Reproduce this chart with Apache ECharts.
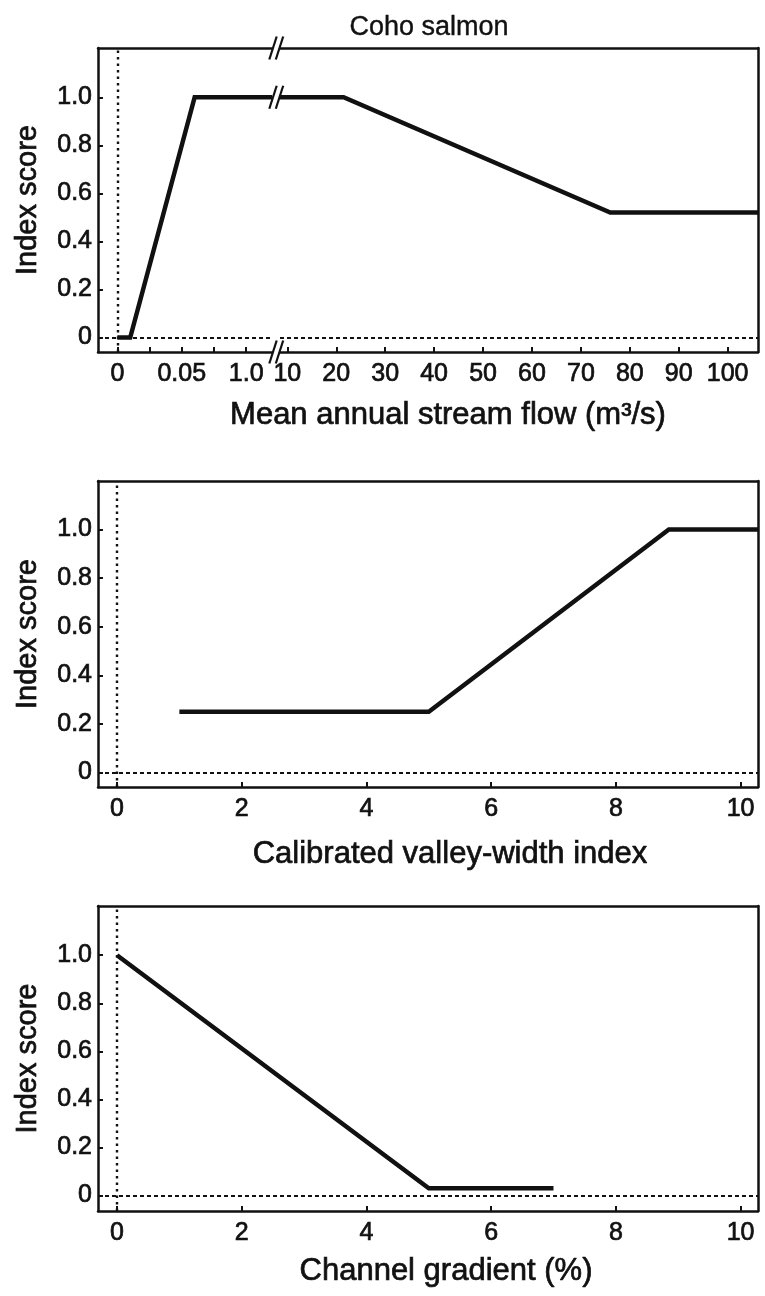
<!DOCTYPE html>
<html>
<head>
<meta charset="utf-8">
<title>Coho salmon habitat index curves</title>
<script src="https://cdn.jsdelivr.net/npm/echarts@6/dist/echarts.min.js"></script>
<style>
  html, body { margin: 0; padding: 0; background: #fff; }
  #chart { width: 765px; height: 1296px; }
</style>
</head>
<body>
<div id="chart"></div>
<script>
// ---- data -------------------------------------------------------------
// Panel 1: mean annual stream flow (m3/s), drawn on a broken axis
const flowLow = [0, 0.01, 0.06, 0.12];          // low-flow segment
const flowLowScore = [0, 0, 1, 1];
const flowHigh = [8.5, 21.5, 76, 106.2];        // high-flow segment
const flowHighScore = [1, 1, 0.52, 0.52];
const flowLowTicks = [0, 0.025, 0.05, 0.075, 0.1];
const flowLowLabelValues = [0, 0.05, 0.1];
const flowLowLabels = ['0', '0.05', '1.0'];
const flowHighTicks = [10, 20, 30, 40, 50, 60, 70, 80, 90, 100];

// Panel 2: calibrated valley-width index
const valleyWidth = [1, 5, 8.85, 10.28];
const valleyScore = [0.25, 0.25, 1, 1];

// Panel 3: channel gradient (%)
const gradient = [0, 5, 7];
const gradientScore = [1, 0.03, 0.03];

const evenTicks = [0, 2, 4, 6, 8, 10];
const scoreTicks = [0, 0.2, 0.4, 0.6, 0.8, 1.0];

// ---- styling ----------------------------------------------------------
const FONT = '"Liberation Sans", Arial, Helvetica, sans-serif';
const INK = '#111';
const FRAME_W = 2.5;
const HEAVY = { textBorderColor: INK, textBorderWidth: 0.7 };   // slightly heavier glyphs

const L = 98, R = 758;
const panel1 = { top: 48, height: 304 };
const panel2 = { top: 481, height: 306 };
const panel3 = { top: 906, height: 305 };
const lowW = 174;          // width of low-flow segment
const highX = 280;         // start of high-flow segment

function pairs(xs, ys) { return xs.map((x, i) => [x, ys[i]]); }

function scoreAxis(grid, min, max) {
  return {
    type: 'value', gridIndex: grid, position: 'left', min, max,
    name: 'Index score', nameLocation: 'middle', nameRotate: 90, nameGap: 56,
    nameTextStyle: Object.assign({ fontFamily: FONT, fontSize: 29, color: INK }, HEAVY),
    axisLine: { show: true, onZero: false, lineStyle: { color: INK, width: FRAME_W } },
    axisTick: { show: true, inside: true, length: 5, customValues: scoreTicks,
                lineStyle: { color: INK, width: 2 } },
    axisLabel: Object.assign({ customValues: scoreTicks, margin: 6, fontFamily: FONT, fontSize: 25, color: INK,
                 formatter: v => (Math.abs(v) < 1e-9 ? '0' : v.toFixed(1)) }, HEAVY),
    splitLine: { show: false }
  };
}
function frameAxisY(grid, min, max) {
  return {
    type: 'value', gridIndex: grid, position: 'right', min, max,
    axisLine: { show: true, onZero: false, lineStyle: { color: INK, width: FRAME_W } },
    axisTick: { show: false }, axisLabel: { show: false }, splitLine: { show: false }
  };
}
function frameAxisX(grid, min, max) {
  return {
    type: 'value', gridIndex: grid, position: 'top', min, max,
    axisLine: { show: true, onZero: false, lineStyle: { color: INK, width: FRAME_W } },
    axisTick: { show: false }, axisLabel: { show: false }, splitLine: { show: false }
  };
}
function bottomAxis(grid, min, max, ticks, labelValues, fmt) {
  return {
    type: 'value', gridIndex: grid, position: 'bottom', min, max,
    axisLine: { show: true, onZero: false, lineStyle: { color: INK, width: FRAME_W } },
    axisTick: { show: true, inside: true, length: 5, customValues: ticks,
                lineStyle: { color: INK, width: 2 } },
    axisLabel: Object.assign({ customValues: labelValues, margin: 10, fontFamily: FONT, fontSize: 25,
                 color: INK, hideOverlap: false, formatter: fmt }, HEAVY),
    splitLine: { show: false }
  };
}

const zeroV = { xAxis: 0, lineStyle: { type: [2.5, 4], width: 2.4, color: INK } };
const zeroH = { yAxis: 0, lineStyle: { type: [4, 3], width: 2.2, color: INK } };

function curve(xi, yi, data, refs) {
  return {
    type: 'line', xAxisIndex: xi, yAxisIndex: yi, data,
    showSymbol: false, symbol: 'none', clip: true, animation: false, silent: true,
    lineStyle: { color: INK, width: 4.5, join: 'miter', cap: 'butt' },
    markLine: { silent: true, symbol: ['none', 'none'], animation: false,
                label: { show: false }, data: refs }
  };
}

const titleStyle = size => Object.assign({ fontFamily: FONT, fontSize: size, fontWeight: 'normal', color: INK }, HEAVY);

const option = {
  backgroundColor: '#fff',
  animation: false,
  title: [
    { text: 'Coho salmon', left: 429, top: 14, textAlign: 'center', padding: 0,
      textStyle: Object.assign(titleStyle(27), { textBorderWidth: 0.4 }) },
    { text: 'Mean annual stream flow (m³/s)', left: 448, top: 400, textAlign: 'center', padding: 0, textStyle: titleStyle(31) },
    { text: 'Calibrated valley-width index', left: 450, top: 839, textAlign: 'center', padding: 0, textStyle: titleStyle(31) },
    { text: 'Channel gradient (%)', left: 446, top: 1256, textAlign: 'center', padding: 0, textStyle: titleStyle(31) }
  ],
  grid: [
    { left: L, width: lowW, top: panel1.top, height: panel1.height },
    { left: highX, width: R - highX, top: panel1.top, height: panel1.height },
    { left: L, width: R - L, top: panel2.top, height: panel2.height },
    { left: L, width: R - L, top: panel3.top, height: panel3.height }
  ],
  xAxis: [
    bottomAxis(0, -0.015, 0.12, flowLowTicks, flowLowLabelValues, v => {
      const i = flowLowLabelValues.findIndex(t => Math.abs(t - v) < 1e-9);
      return i >= 0 ? flowLowLabels[i] : '';
    }),
    frameAxisX(0, -0.015, 0.12),
    bottomAxis(1, 8.5, 106.2, flowHighTicks, flowHighTicks, v => String(Math.round(v))),
    frameAxisX(1, 8.5, 106.2),
    bottomAxis(2, -0.305, 10.28, evenTicks, evenTicks, v => String(Math.round(v))),
    frameAxisX(2, -0.305, 10.28),
    bottomAxis(3, -0.305, 10.28, evenTicks, evenTicks, v => String(Math.round(v))),
    frameAxisX(3, -0.305, 10.28)
  ],
  yAxis: [
    scoreAxis(0, -0.06, 1.205),
    frameAxisY(1, -0.06, 1.205),
    scoreAxis(2, -0.06, 1.2),
    frameAxisY(2, -0.06, 1.2),
    scoreAxis(3, -0.065, 1.205),
    frameAxisY(3, -0.065, 1.205)
  ],
  series: [
    curve(0, 0, pairs(flowLow, flowLowScore), [zeroV, zeroH]),
    curve(2, 1, pairs(flowHigh, flowHighScore), [zeroH]),
    curve(4, 2, pairs(valleyWidth, valleyScore), [zeroV, zeroH]),
    curve(6, 4, pairs(gradient, gradientScore), [zeroV, zeroH])
  ]
};

const chart = echarts.init(document.getElementById('chart'), null, { renderer: 'canvas' });
chart.setOption(option);

// Axis-break marks ("//") on the frame and on the plateau of the flow curve
function slash(cx, cy) {
  return {
    type: 'line', silent: true, z: 100,
    shape: { x1: cx - 3.7, y1: cy + 11.5, x2: cx + 3.7, y2: cy - 11.5 },
    style: { stroke: INK, lineWidth: 2.2 }
  };
}
const gapLeft = L + lowW, gapRight = highX;
const plateauY = chart.convertToPixel({ xAxisIndex: 0, yAxisIndex: 0 }, [0, 1])[1];
const frameTop = panel1.top, frameBottom = panel1.top + panel1.height;
const marks = [];
[frameTop, plateauY, frameBottom].forEach(y => {
  marks.push(slash(gapLeft + 1, y), slash(gapRight - 0.5, y));
});
chart.setOption({ graphic: marks });
</script>
</body>
</html>
